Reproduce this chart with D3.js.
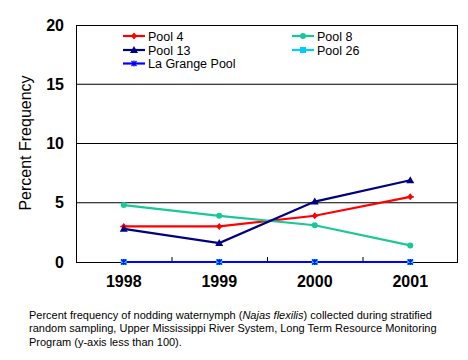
<!DOCTYPE html>
<html><head><meta charset="utf-8">
<script src="https://cdn.jsdelivr.net/npm/d3@7"></script>
<style>body{margin:0;background:#fff;} text{font-family:Arial,"Liberation Sans",sans-serif;}</style>
</head><body>
<svg id="c" width="468" height="360"></svg>
<script>
const years = ["1998","1999","2000","2001"];
const pool4 = [3.0, 3.0, 3.9, 5.5];
const pool8 = [4.8, 3.9, 3.1, 1.4];
const pool13 = [2.8, 1.6, 5.1, 6.9];
const pool26 = [0, 0, 0, 0];
const laGrange = [0, 0, 0, 0];
const yTicks = [0, 5, 10, 15, 20];
const seriesNames = ["Pool 4","Pool 8","Pool 13","Pool 26","La Grange Pool"];

const series = [
  {name:seriesNames[0], values:pool4, color:"#FF0000", marker:"diamond"},
  {name:seriesNames[1], values:pool8, color:"#19C896", marker:"circle"},
  {name:seriesNames[2], values:pool13, color:"#000080", marker:"triangle"},
  {name:seriesNames[3], values:pool26, color:"#00CCFF", marker:"square"},
  {name:seriesNames[4], values:laGrange, color:"#0000FF", marker:"star"}
];

const svg = d3.select("#c");
const L=76, R=458, T=25, B=262;
const x = d3.scaleBand().domain(years).range([L,R]);
const y = d3.scaleLinear().domain([0,20]).range([B,T]);

// gridlines
svg.append("g").selectAll("line").data(yTicks.filter(d=>d>0&&d<20)).join("line")
  .attr("x1",L).attr("x2",R).attr("y1",d=>y(d)).attr("y2",d=>y(d))
  .attr("stroke","#000").attr("stroke-width",1);

// frame
svg.append("rect").attr("x",L+0.5).attr("y",T+0.5).attr("width",R-L-1).attr("height",B-T)
  .attr("fill","none").attr("stroke","#000").attr("stroke-width",1);

// x axis
const xAxis = svg.append("g").attr("transform",`translate(0,${B})`)
  .call(d3.axisBottom(x).tickSize(0).tickPadding(14));
xAxis.select(".domain").remove();
xAxis.selectAll("text").attr("font-size",16).attr("font-weight","bold").attr("fill","#000")
  .attr("font-family","Arial,'Liberation Sans',sans-serif");
// category separator ticks (inward)
svg.append("g").selectAll("line").data(years.slice(1)).join("line")
  .attr("x1",d=>x(d)+0.5).attr("x2",d=>x(d)+0.5).attr("y1",B).attr("y2",B-5)
  .attr("stroke","#000");

// y axis labels
const yAxis = svg.append("g").attr("transform",`translate(${L},0)`)
  .call(d3.axisLeft(y).tickValues(yTicks).tickSize(0).tickPadding(12));
yAxis.select(".domain").remove();
yAxis.selectAll("text").attr("font-size",16).attr("font-weight","bold").attr("fill","#000")
  .attr("font-family","Arial,'Liberation Sans',sans-serif");

svg.append("text").attr("transform","translate(31,143) rotate(-90)")
  .attr("text-anchor","middle").attr("font-size",16).text("Percent Frequency");

const cx = d => x(d)+x.bandwidth()/2;
const line = d3.line().x(d=>cx(d.year)).y(d=>y(d.v));

function marker(g, type, color){
  if(type==="circle") g.append("circle").attr("r",3).attr("fill",color);
  else if(type==="diamond") g.append("path").attr("d","M0,-3.5L3,0L0,3.5L-3,0Z M-3.5,-0.8H3.5V0.8H-3.5Z").attr("fill",color);
  else if(type==="triangle") g.append("path").attr("d","M0,-4L4,3H-4Z").attr("fill",color);
  else if(type==="square") g.append("rect").attr("x",-3).attr("y",-3).attr("width",6).attr("height",6).attr("fill",color);
  else if(type==="star") g.append("path").attr("d","M-2.5,-2.5L2.5,2.5M2.5,-2.5L-2.5,2.5M0,-3V3").attr("stroke",color).attr("stroke-width",1.2).attr("fill","none");
}

series.forEach(s=>{
  const data = years.map((yr,i)=>({year:yr, v:s.values[i]}));
  svg.append("path").datum(data).attr("d",line).attr("fill","none")
    .attr("stroke",s.color).attr("stroke-width",2.2);
});
series.forEach(s=>{
  years.forEach((yr,i)=>{
    const g = svg.append("g").attr("transform",`translate(${cx(yr)},${y(s.values[i])})`);
    marker(g, s.marker, s.color);
  });
});

// legend
const legPos = [[123,36],[292,36],[123,50],[292,50],[123,63.5]];
const legOrder = [0,1,2,3,4];
legOrder.forEach((si,k)=>{
  const s = series[si]; const [lx,ly] = legPos[k];
  const g = svg.append("g").attr("transform",`translate(${lx},${ly})`);
  g.append("line").attr("x1",0).attr("x2",22).attr("y1",0).attr("y2",0).attr("stroke",s.color).attr("stroke-width",2.2);
  const m = g.append("g").attr("transform","translate(11,0)");
  marker(m, s.marker, s.color);
  g.append("text").attr("x",25).attr("y",4.5).attr("font-size",12.5).text(s.name);
});

// caption
const cap = svg.append("text").attr("font-size",11).attr("fill","#000");
cap.append("tspan").attr("x",29).attr("y",319).text("Percent frequency of nodding waternymph (");
cap.append("tspan").attr("font-style","italic").text("Najas flexilis");
cap.append("tspan").text(") collected during stratified");
svg.append("text").attr("font-size",11).attr("x",29).attr("y",332).text("random sampling, Upper Mississippi River System, Long Term Resource Monitoring");
svg.append("text").attr("font-size",11).attr("x",29).attr("y",345.5).text("Program (y-axis less than 100).");
</script>
</body></html>
